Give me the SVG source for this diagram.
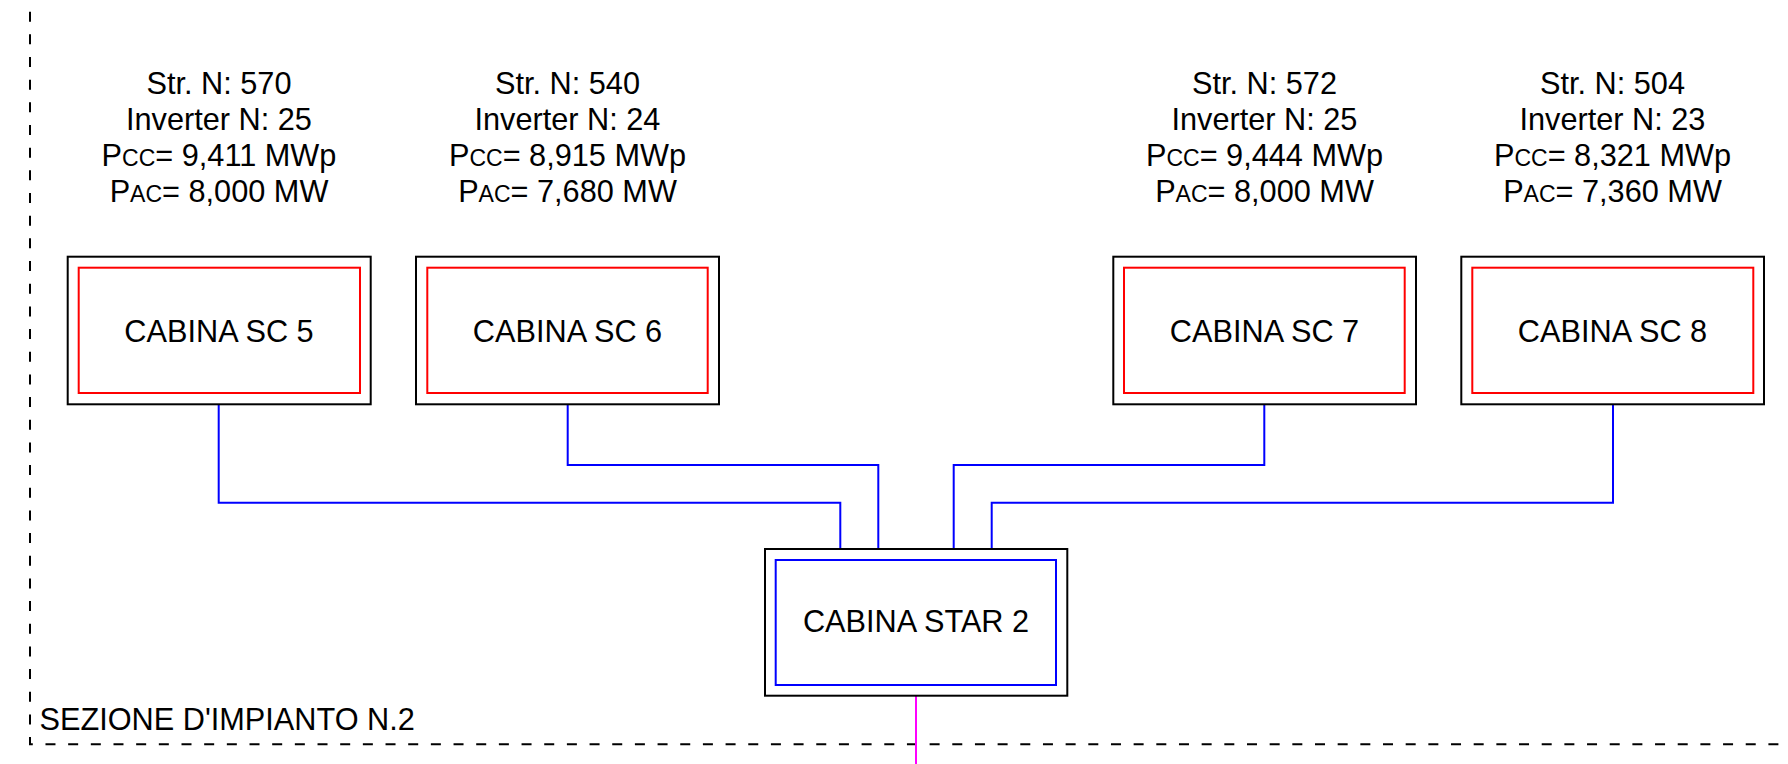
<svg xmlns="http://www.w3.org/2000/svg" width="1788" height="764" viewBox="0 0 1788 764">
<style>
text{font-family:"Liberation Sans",Arial,sans-serif;fill:#000;font-size:30.7px}
.lbl{text-anchor:middle}
.sm{font-size:23px}
.outer{fill:none;stroke:#000;stroke-width:2}
.red{fill:none;stroke:#ff0000;stroke-width:2}
.blue{fill:none;stroke:#0000ff;stroke-width:2}
.mag{fill:none;stroke:#ff00ff;stroke-width:2}
.border{fill:none;stroke:#000;stroke-width:2;stroke-dasharray:10 12.67;stroke-dashoffset:11}
</style>
<rect width="1788" height="764" fill="#fff"/>
<g id="section">
<path class="border" d="M30,0 V744.3 H1788"/>
<text x="39.5" y="730">SEZIONE D'IMPIANTO N.2</text>
</g>
<g id="connectors">
<path class="blue" d="M218.7,404.3 V502.7 H840.3 V549"/>
<path class="blue" d="M567.7,404.3 V465 H878.3 V549"/>
<path class="blue" d="M1264.3,404.3 V465 H953.7 V549"/>
<path class="blue" d="M1613,404.3 V502.7 H991.7 V549"/>
<path class="mag" d="M916,695.7 V764"/>
</g>
<g id="sc5">
<text class="lbl" x="219" y="94">Str. N: 570</text>
<text class="lbl" x="219" y="130">Inverter N: 25</text>
<text class="lbl" x="219" y="166">P<tspan class="sm">CC</tspan>= 9,411 MWp</text>
<text class="lbl" x="219" y="202">P<tspan class="sm">AC</tspan>= 8,000 MW</text>
<rect class="outer" x="67.7" y="256.7" width="303" height="147.6"/>
<rect class="red" x="78.7" y="267.7" width="281.3" height="125.3"/>
<text class="lbl" x="219" y="341.7">CABINA SC 5</text>
</g>
<g id="sc6">
<text class="lbl" x="567.5" y="94">Str. N: 540</text>
<text class="lbl" x="567.5" y="130">Inverter N: 24</text>
<text class="lbl" x="567.5" y="166">P<tspan class="sm">CC</tspan>= 8,915 MWp</text>
<text class="lbl" x="567.5" y="202">P<tspan class="sm">AC</tspan>= 7,680 MW</text>
<rect class="outer" x="416" y="256.7" width="303" height="147.6"/>
<rect class="red" x="427.3" y="267.7" width="280.4" height="125.3"/>
<text class="lbl" x="567.5" y="341.7">CABINA SC 6</text>
</g>
<g id="sc7">
<text class="lbl" x="1264.5" y="94">Str. N: 572</text>
<text class="lbl" x="1264.5" y="130">Inverter N: 25</text>
<text class="lbl" x="1264.5" y="166">P<tspan class="sm">CC</tspan>= 9,444 MWp</text>
<text class="lbl" x="1264.5" y="202">P<tspan class="sm">AC</tspan>= 8,000 MW</text>
<rect class="outer" x="1113.3" y="256.7" width="302.7" height="147.6"/>
<rect class="red" x="1124" y="267.7" width="280.7" height="125.3"/>
<text class="lbl" x="1264.5" y="341.7">CABINA SC 7</text>
</g>
<g id="sc8">
<text class="lbl" x="1612.5" y="94">Str. N: 504</text>
<text class="lbl" x="1612.5" y="130">Inverter N: 23</text>
<text class="lbl" x="1612.5" y="166">P<tspan class="sm">CC</tspan>= 8,321 MWp</text>
<text class="lbl" x="1612.5" y="202">P<tspan class="sm">AC</tspan>= 7,360 MW</text>
<rect class="outer" x="1461.3" y="256.7" width="302.7" height="147.6"/>
<rect class="red" x="1472.3" y="267.7" width="281" height="125.3"/>
<text class="lbl" x="1612.5" y="341.7">CABINA SC 8</text>
</g>
<g id="star2">
<rect class="outer" x="765" y="549" width="302.3" height="146.7"/>
<rect class="blue" x="775.7" y="560" width="280.3" height="125"/>
<text class="lbl" x="916" y="632.3">CABINA STAR 2</text>
</g>
</svg>
